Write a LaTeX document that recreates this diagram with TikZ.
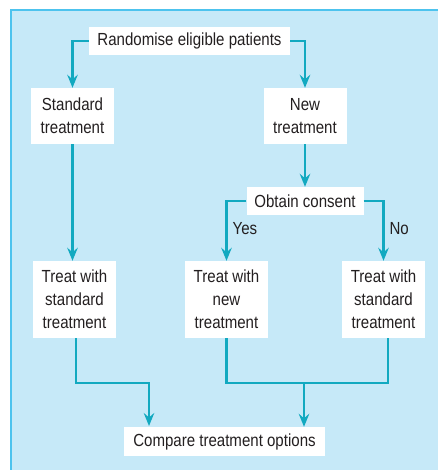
\documentclass[tikz,border=0pt]{standalone}
\usepackage{fontspec}
\setmainfont[FakeStretch=0.86]{Liberation Sans}
\usetikzlibrary{arrows.meta}
\definecolor{panel}{HTML}{C6E9F8}
\definecolor{panelborder}{HTML}{4DC3EE}
\definecolor{flow}{HTML}{12A9C0}
\definecolor{txt}{HTML}{231F20}
\begin{document}
\begin{tikzpicture}[x=1pt,y=-1pt,
  box/.style={fill=white,inner sep=0pt,align=center,font=\fontsize{17.5}{23}\selectfont,text=txt},
  flowline/.style={draw=flow,line width=2.2pt},
  arr/.style={flowline,-{Stealth[length=13pt,width=10.5pt,inset=4.5pt]}},
  lbl/.style={font=\fontsize{17.5}{23}\selectfont,text=txt,inner sep=0pt}]
\useasboundingbox (0,0) rectangle (437,470);
\fill[panel] (11,10) rectangle (445,480);
\draw[panelborder,line width=1.6pt] (445,10) -- (11,10) -- (11,480);
\node[box,minimum width=201,minimum height=28] (rand) at (189.5,41) {Randomise eligible patients};
\node[box,minimum width=83,minimum height=56] (std) at (72.5,116) {Standard\\treatment};
\node[box,minimum width=83,minimum height=56] (new) at (305,116) {New\\treatment};
\node[box,minimum width=117,minimum height=28] (cons) at (305,201) {Obtain consent};
\node[box,minimum width=83,minimum height=77] (tstd) at (74.5,299.5) {Treat with\\standard\\treatment};
\node[box,minimum width=83,minimum height=77] (tnew) at (226.5,299.5) {Treat with\\new\\treatment};
\node[box,minimum width=83,minimum height=77] (tstd2) at (383.5,299.5) {Treat with\\standard\\treatment};
\node[box,minimum width=201,minimum height=29] (comp) at (224.5,441.5) {Compare treatment options};
\coordinate (j1) at (304,383);
\draw[arr] (rand.west) -| (std.north);
\draw[arr] (rand.east) -| (new.north);
\draw[arr] (new.south) -- (cons.north);
\draw[arr] (cons.west) -| node[lbl,pos=0.73,anchor=west,xshift=5pt] (yes) {Yes} (tnew.north);
\draw[arr] (cons.east) -| node[lbl,pos=0.73,anchor=west,xshift=5pt] (no) {No} (tstd2.north);
\draw[arr] (std.south) -- (std.south |- tstd.north);
\draw[arr] ([xshift=1.5pt]tstd.south) |- (149,383) -- (149,426);
\draw[flowline] (tnew.south) |- (j1);
\draw[flowline] ([xshift=4.5pt]tstd2.south) |- (j1);
\draw[arr] (j1) -- (j1 |- comp.north);
\end{tikzpicture}
\end{document}
